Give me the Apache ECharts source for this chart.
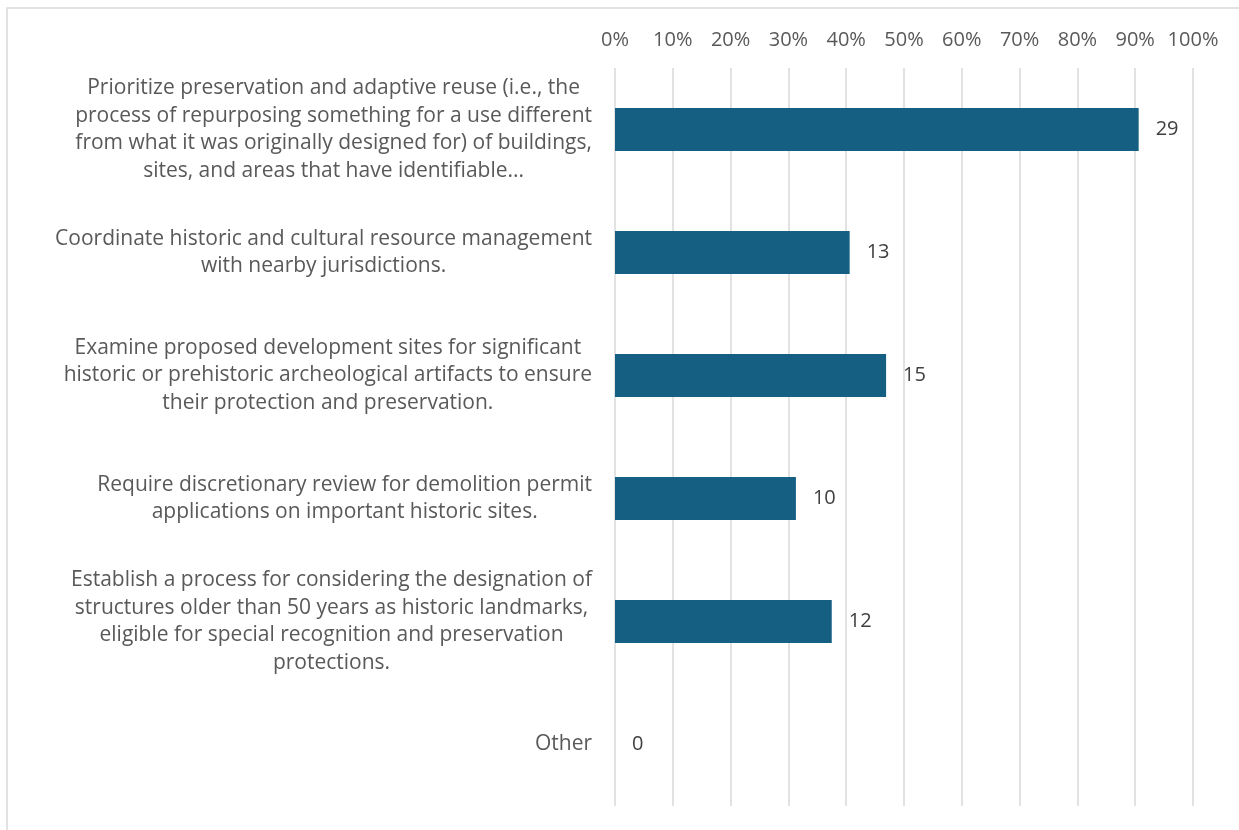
<!DOCTYPE html>
<html lang="en" style="height: 100%">
<head>
  <meta charset="utf-8">
</head>
<body style="height: 100%; margin: 0; background: #fff">
  <div id="container" style="width: 1239px; height: 830px"></div>

  <script src="https://cdn.jsdelivr.net/npm/echarts@6/dist/echarts.min.js"></script>

  <script type="text/javascript">
    // answer options (each line of the label is one entry)
    const categories = [
      ['Prioritize preservation and adaptive reuse (i.e., the',
       'process of repurposing something for a use different',
       'from what it was originally designed for) of buildings,',
       'sites, and areas that have identifiable...'],
      ['Coordinate historic and cultural resource management',
       'with nearby jurisdictions.'],
      ['Examine proposed development sites for significant',
       'historic or prehistoric archeological artifacts to ensure',
       'their protection and preservation.'],
      ['Require discretionary review for demolition permit',
       'applications on important historic sites.'],
      ['Establish a process for considering the designation of',
       'structures older than 50 years as historic landmarks,',
       'eligible for special recognition and preservation',
       'protections.'],
      ['Other']
    ];
    // number of responses shown as label
    const counts = [29, 13, 15, 10, 12, 0];
    // share of respondents (bar length, %)
    const shares = [90.6, 40.6, 46.9, 31.3, 37.5, 0];
    const xTicks = [0, 10, 20, 30, 40, 50, 60, 70, 80, 90, 100];

    var dom = document.getElementById('container');
    var myChart = echarts.init(dom, null, { renderer: 'canvas' });
    var font = '"Open Sans", Roboto, sans-serif';

    var option = {
      backgroundColor: '#fff',
      animation: false,
      textStyle: { fontFamily: font },
      graphic: [
        {
          type: 'rect',
          shape: { x: 7, y: 8, width: 1300, height: 900 },
          style: { fill: 'none', stroke: '#d9d9d9', lineWidth: 1.5 },
          silent: true,
          z: -10
        }
      ],
      grid: { left: 615, right: 46, top: 68, bottom: 24, containLabel: false },
      xAxis: {
        type: 'value',
        position: 'top',
        min: xTicks[0],
        max: xTicks[xTicks.length - 1],
        interval: xTicks[1] - xTicks[0],
        axisLine: { show: false },
        axisTick: { show: false },
        axisLabel: {
          margin: 18,
          color: '#595959',
          fontSize: 20,
          fontFamily: font,
          formatter: '{value}%'
        },
        splitLine: { lineStyle: { color: '#d9d9d9', width: 1.5 } }
      },
      yAxis: {
        type: 'category',
        inverse: true,
        data: categories.map(function (c) { return c.join('\n'); }),
        axisLine: { show: false },
        axisTick: { show: false },
        axisLabel: {
          margin: 23,
          align: 'right',
          formatter: function (v) {
            return v.split('\n').map(function (l) { return '{c|' + l + '}'; }).join('\n');
          },
          rich: {
            c: {
              align: 'center',
              color: '#595959',
              fontSize: 21,
              lineHeight: 27.5,
              fontFamily: font
            }
          }
        }
      },
      series: [
        {
          type: 'bar',
          data: shares.map(function (s, i) {
            return { value: s, count: counts[i] };
          }),
          barWidth: 43,
          itemStyle: { color: '#156082' },
          label: {
            show: true,
            position: 'right',
            distance: 17,
            color: '#404040',
            fontSize: 20,
            fontFamily: font,
            formatter: function (p) { return String(counts[p.dataIndex]); }
          }
        }
      ]
    };

    myChart.setOption(option);
    window.addEventListener('resize', myChart.resize);
  </script>
</body>
</html>
